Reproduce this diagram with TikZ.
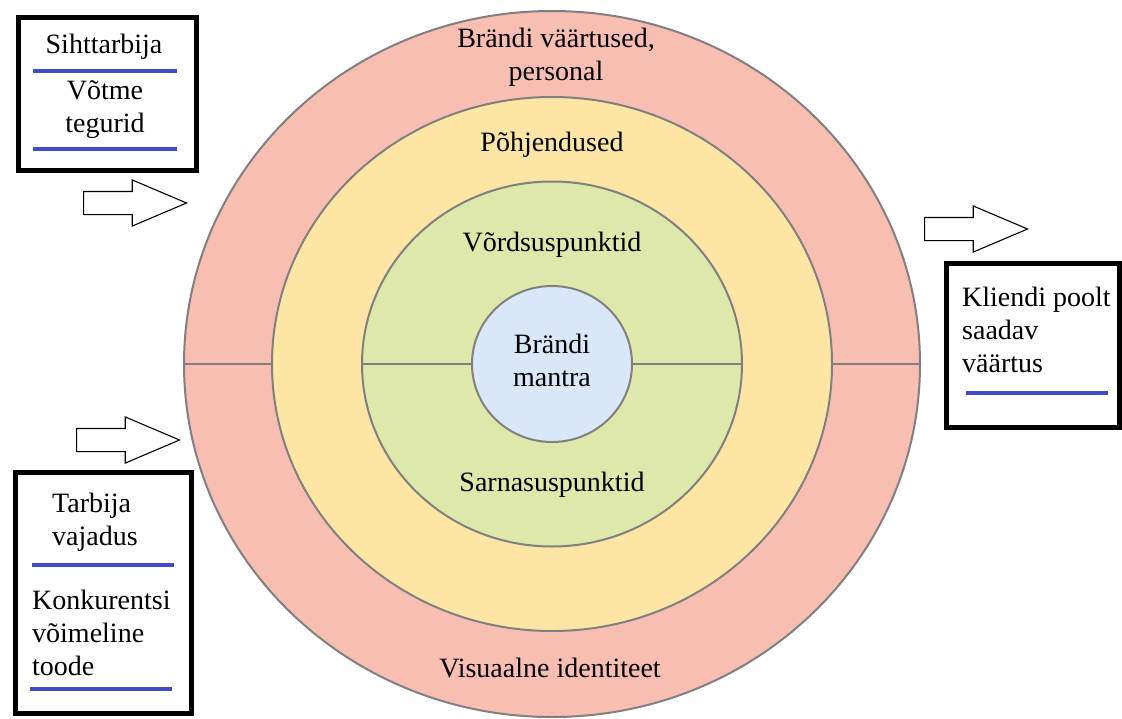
\documentclass[tikz,border=0pt]{standalone}
\usepackage{fontspec}
\setmainfont{Liberation Serif}
\usetikzlibrary{shapes.arrows}
\definecolor{ringline}{RGB}{128,128,128}
\definecolor{ringouter}{RGB}{249,190,178}
\definecolor{ringmid}{RGB}{253,229,164}
\definecolor{ringinner}{RGB}{221,232,170}
\definecolor{ringcore}{RGB}{217,232,248}
\definecolor{barblue}{RGB}{66,74,204}

\begin{document}
\begin{tikzpicture}[
x=1pt,y=-1pt,
ring/.style={draw=ringline,line width=2pt},
divider/.style={draw=ringline,line width=2pt},
label/.style={font=\fontsize{28}{33}\selectfont,align=center,inner sep=0pt},
panel/.style={draw,line width=5pt,inner sep=0pt},
bar/.style={draw=barblue,line width=4pt},
flow/.style={
  single arrow,
  draw,
  line width=1.1pt,
  inner xsep=0pt,
  inner ysep=11pt,
  minimum width=0pt,
  minimum height=103pt,
  single arrow head extend=11.5pt,
  single arrow tip angle=46,
  anchor=tail
  }
]
\useasboundingbox (0,0) rectangle (1122,718);
\coordinate (c) at (552,364);
% the rings, outside in
\fill[ringouter,ring] (c) ellipse [x radius=368pt,y radius=353pt];
\coordinate (outerW) at (184,364);
\coordinate (outerE) at (920,364);
\draw[divider] (outerW) -- (outerE);
\fill[ringmid,ring] (c) ellipse [x radius=280pt,y radius=267pt];
\fill[ringinner,ring] (c) ellipse [x radius=190pt,y radius=182.5pt];
\coordinate (innerW) at (362,364);
\coordinate (innerE) at (742,364);
\draw[divider] (innerW) -- (innerE);
\fill[ringcore,ring] (c) ellipse [x radius=80pt,y radius=78pt];

\node[label] (values) at (556,57) {Brändi väärtused,\\personal};
\node[label] (reasons) at (552,145) {Põhjendused};
\node[label] (pop) at (552,245) {Võrdsuspunktid};
\node[label] (mantra) at (552,360) {Brändi\\mantra};
\node[label] (pod) at (552,485) {Sarnasuspunktid};
\node[label] (visual) at (550,668) {Visuaalne identiteet};

% boxes round the rings
\node[panel,minimum width=178pt,minimum height=153pt] (target) at (107,93.5) {};
\node[label] (targettxt) at (104,47) {Sihttarbija};
\node[label] (keytxt) at (105,110) {Võtme\\tegurid};
\draw[bar] (33,71) -- (177,71);
\draw[bar] (33,149) -- (177,149);

\node[panel,minimum width=176pt,minimum height=241pt] (need) at (103,592.5) {};
\node[label,align=left,anchor=west] (needtxt) at (52,522) {Tarbija\\vajadus};
\node[label,align=left,anchor=west] (producttxt) at (32,633) {Konkurentsi\\võimeline\\toode};
\draw[bar] (32,565) -- (174,565);
\draw[bar] (30,689) -- (172,689);

\node[panel,minimum width=173pt,minimum height=164pt] (value) at (1032.5,345) {};
\node[label,align=left,anchor=west] (valuetxt) at (962,330) {Kliendi poolt\\saadav\\väärtus};
\draw[bar] (966,393) -- (1108,393);

\foreach \Name/\Pos in {in1/{(83,203)},in2/{(76,440)},out/{(924,229)}}
  \node[flow] (\Name) at \Pos {};
\end{tikzpicture}
\end{document}
